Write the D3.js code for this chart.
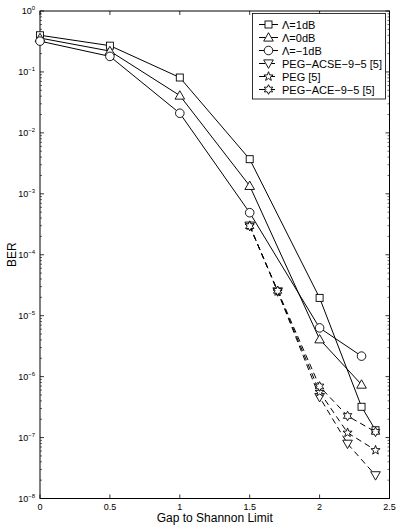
<!DOCTYPE html>
<html><head><meta charset="utf-8">
<script src="https://cdn.jsdelivr.net/npm/d3@7"></script>
<style>body{margin:0;background:#fff}svg{display:block}text{font-family:"Liberation Sans",Arial,sans-serif}</style>
</head><body><svg id="c" width="399" height="527"></svg>
<script>
const xTicks = [0, 0.5, 1, 1.5, 2, 2.5];
const xTickLabels = ["0", "0.5", "1", "1.5", "2", "2.5"];
const yExponents = [0, -1, -2, -3, -4, -5, -6, -7, -8];

const seriesNames = ["\u039B=1dB", "\u039B=0dB", "\u039B=\u22121dB", "PEG\u2212ACSE\u22129\u22125 [5]", "PEG [5]", "PEG\u2212ACE\u22129\u22125 [5]"];
const seriesMarkers = ["square", "triangle", "circle", "triangleDown", "star5", "star6"];
const seriesDashed = [false, false, false, true, true, true];

const xLam1 = [0, 0.5, 1, 1.5, 2, 2.3, 2.4];
const yLam1 = [0.40, 0.27, 0.081, 3.7e-3, 1.96e-5, 3.2e-7, 1.32e-7];
const xLam0 = [0, 0.5, 1, 1.5, 2, 2.3];
const yLam0 = [0.36, 0.22, 0.041, 1.35e-3, 4.1e-6, 7.4e-7];
const xLamM1 = [0, 0.5, 1, 1.5, 2, 2.3];
const yLamM1 = [0.32, 0.18, 0.021, 4.9e-4, 6.3e-6, 2.17e-6];
const xAcse = [1.5, 1.7, 2, 2.2, 2.4];
const yAcse = [3.0e-4, 2.5e-5, 4.6e-7, 7.9e-8, 2.4e-8];
const xPeg = [1.5, 1.7, 2, 2.2, 2.4];
const yPeg = [3.0e-4, 2.5e-5, 5.6e-7, 1.2e-7, 6.2e-8];
const xAce = [1.5, 1.7, 2, 2.2, 2.4];
const yAce = [2.95e-4, 2.56e-5, 6.9e-7, 2.26e-7, 1.24e-7];

const seriesX = [xLam1, xLam0, xLamM1, xAcse, xPeg, xAce];
const seriesY = [yLam1, yLam0, yLamM1, yAcse, yPeg, yAce];

const L = 40, R = 389.5, T = 11, B = 498.5;
const svg = d3.select("#c");
const x = d3.scaleLinear().domain([0, 2.5]).range([L, R]);
const y = d3.scaleLog().domain([1e-8, 1]).range([B, T]);

// frame
svg.append("rect").attr("x", L).attr("y", T).attr("width", R - L).attr("height", B - T)
  .attr("fill", "none").attr("stroke", "#000").attr("stroke-width", 1);

// x ticks (bottom and top, inward)
const g = svg.append("g").attr("stroke", "#000").attr("stroke-width", 0.8);
xTicks.forEach(t => {
  g.append("line").attr("x1", x(t)).attr("x2", x(t)).attr("y1", B).attr("y2", B - 4);
  g.append("line").attr("x1", x(t)).attr("x2", x(t)).attr("y1", T).attr("y2", T + 4);
});
// y ticks, major + minor
for (let e = -8; e <= 0; e++) {
  const v = Math.pow(10, e);
  g.append("line").attr("x1", L).attr("x2", L + 4).attr("y1", y(v)).attr("y2", y(v));
  g.append("line").attr("x1", R).attr("x2", R - 4).attr("y1", y(v)).attr("y2", y(v));
  if (e < 0) {
    for (let m = 2; m <= 9; m++) {
      const mv = m * v;
      g.append("line").attr("x1", L).attr("x2", L + 2).attr("y1", y(mv)).attr("y2", y(mv)).attr("stroke-width", 0.6);
      g.append("line").attr("x1", R).attr("x2", R - 2).attr("y1", y(mv)).attr("y2", y(mv)).attr("stroke-width", 0.6);
    }
  }
}

// x tick labels
xTicks.forEach((t, i) => {
  svg.append("text").attr("x", x(t)).attr("y", B + 11).attr("text-anchor", "middle")
    .attr("font-size", 9).text(xTickLabels[i]);
});
// y tick labels 10^e
yExponents.forEach(e => {
  const tx = svg.append("text").attr("x", L - 5).attr("y", y(Math.pow(10, e)) + 3).attr("text-anchor", "end").attr("font-size", 9);
  tx.append("tspan").text("10");
  tx.append("tspan").attr("font-size", 6).attr("dy", -4).text(e === 0 ? "0" : "\u2212" + (-e));
});

// axis titles
svg.append("text").attr("x", (L + R) / 2).attr("y", 522).attr("text-anchor", "middle").attr("font-size", 12).text("Gap to Shannon Limit");
svg.append("text").attr("transform", "translate(16," + ((T + B) / 2) + ") rotate(-90)").attr("text-anchor", "middle").attr("font-size", 12).text("BER");

function marker(sel, type, cx, cy) {
  const gm = sel.append("g").attr("transform", "translate(" + cx + "," + cy + ")");
  const st = m => m.attr("fill", "#fff").attr("stroke", "#000").attr("stroke-width", 0.9);
  if (type === "square") st(gm.append("rect").attr("x", -3.5).attr("y", -3.5).attr("width", 7).attr("height", 7));
  else if (type === "circle") st(gm.append("circle").attr("r", 4.3));
  else if (type === "triangle") st(gm.append("path").attr("d", "M0,-4.8L4.8,3.6L-4.8,3.6Z"));
  else if (type === "triangleDown") st(gm.append("path").attr("d", "M0,4.8L4.8,-3.6L-4.8,-3.6Z"));
  else if (type === "star5" || type === "star6") {
    const n = type === "star5" ? 5 : 6, ro = 4.8, ri = type === "star5" ? 2.0 : 2.6;
    const pts = [];
    for (let k = 0; k < 2 * n; k++) {
      const a = -Math.PI / 2 + k * Math.PI / n, r = k % 2 ? ri : ro;
      pts.push([r * Math.cos(a), r * Math.sin(a)]);
    }
    st(gm.append("path").attr("d", "M" + pts.map(p => p.join(",")).join("L") + "Z"));
  }
}

const line = d3.line().x(d => x(d[0])).y(d => y(d[1]));
const plot = svg.append("g");
seriesNames.forEach((name, i) => {
  const pts = seriesX[i].map((v, k) => [v, seriesY[i][k]]);
  plot.append("path").attr("d", line(pts)).attr("fill", "none").attr("stroke", "#000")
    .attr("stroke-width", 1).attr("stroke-dasharray", seriesDashed[i] ? "6,4" : null);
});
seriesNames.forEach((name, i) => {
  seriesX[i].forEach((v, k) => marker(plot, seriesMarkers[i], x(v), y(seriesY[i][k])));
});

// legend
const lgX = 252.5, lgY = 13.5, lgW = 133, lgH = 85.5, rowH = 13;
svg.append("rect").attr("x", lgX).attr("y", lgY).attr("width", lgW).attr("height", lgH)
  .attr("fill", "#fff").attr("stroke", "#000").attr("stroke-width", 0.8);
seriesNames.forEach((name, i) => {
  const ry = lgY + 11 + i * rowH;
  svg.append("line").attr("x1", 259).attr("x2", 278).attr("y1", ry).attr("y2", ry)
    .attr("stroke", "#000").attr("stroke-width", 1).attr("stroke-dasharray", seriesDashed[i] ? "6,4" : null);
  marker(svg, seriesMarkers[i], 268.5, ry);
  svg.append("text").attr("x", 282).attr("y", ry + 4).attr("font-size", 11).text(name);
});
</script></body></html>
